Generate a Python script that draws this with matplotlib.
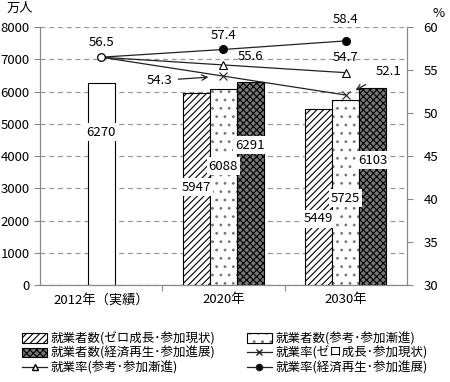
import matplotlib
matplotlib.use("Agg")
import matplotlib.pyplot as plt
from matplotlib.patches import Patch
from matplotlib.lines import Line2D

plt.rcParams['font.family'] = ['Noto Sans CJK JP', 'DejaVu Sans']
plt.rcParams['hatch.linewidth'] = 0.8

# data
categories = ["2012年（実績）", "2020年", "2030年"]
actual_2012 = 6270
workers_zero = [5947, 5449]      # 就業者数(ゼロ成長・参加現状) 2020, 2030
workers_ref = [6088, 5725]       # 就業者数(参考・参加漸進)
workers_econ = [6291, 6103]      # 就業者数(経済再生・参加進展)
rate_2012 = 56.5
rate_zero = [54.3, 52.1]         # 就業率(ゼロ成長・参加現状)
rate_ref = [55.6, 54.7]          # 就業率(参考・参加漸進)
rate_econ = [57.4, 58.4]         # 就業率(経済再生・参加進展)

fig = plt.figure(figsize=(4.5, 3.82), dpi=100)
ax = fig.add_axes([0.089, 0.254, 0.815, 0.675])
ax2 = ax.twinx()
ax.set_zorder(ax2.get_zorder() - 1)
ax.patch.set_visible(True)
ax2.patch.set_visible(False)

w = 0.22
fut = [1, 2]
ax.bar(0, actual_2012, w, color="white", edgecolor="black", lw=0.8, zorder=3)
ax.bar([x - w for x in fut], workers_zero, w, color="white", edgecolor="black",
       hatch="/////", lw=0.8, zorder=3)
# dotted bars: grey dots, then black outline on top
ax.bar(fut, workers_ref, w, color="white", edgecolor="#777777", hatch="..", lw=0, zorder=3)
ax.bar(fut, workers_ref, w, fill=False, edgecolor="black", lw=0.8, zorder=3)
ax.bar([x + w for x in fut], workers_econ, w, color="#777777", edgecolor="black",
       hatch="xxxxx", lw=0.8, zorder=3)

# bar value labels (white boxes)
box = dict(facecolor="white", edgecolor="none", pad=1.5)
lab_kw = dict(ha="center", va="center", fontsize=9.5, bbox=box, zorder=5)
ax.text(0, 4744, str(actual_2012), **lab_kw)
for x, v, yl in zip(fut, workers_zero, [3039, 2047]):
    ax.text(x - w, yl, str(v), **lab_kw)
for x, v, yl in zip(fut, workers_ref, [3690, 2698]):
    ax.text(x, yl, str(v), **lab_kw)
for x, v, yl in zip(fut, workers_econ, [4341, 3876]):
    ax.text(x + w, yl, str(v), **lab_kw)

ax.set_xlim(-0.5, 2.5)
ax.set_ylim(0, 8000)
ax.set_yticks(range(0, 8001, 1000))
ax.set_xticks([0.5, 1.5], minor=False)
ax.set_xticklabels([])
ax.set_xticks([0, 1, 2], minor=True)
ax.set_xticklabels(categories, minor=True)
ax.tick_params(axis="x", which="minor", length=0, pad=6, labelsize=9.5)
ax.tick_params(axis="x", which="major", length=4, color="#888888")
ax.tick_params(axis="y", length=4, color="#888888", labelsize=9.5)
ax.grid(axis="y", linestyle=(0, (4, 3)), color="#999999", lw=0.9, zorder=0)
ax.spines["top"].set_visible(False)
ax2.spines["top"].set_visible(False)
for a in (ax, ax2):
    for s in ["left", "right", "bottom"]:
        a.spines[s].set_color("#888888")

# rate lines on right axis
xs = [0, 1, 2]
ax2.plot(xs, [rate_2012] + rate_zero, color="#222222", lw=0.9, marker="x", ms=6,
         markevery=[1, 2], mew=0.8, zorder=4)
ax2.plot(xs, [rate_2012] + rate_ref, color="#222222", lw=0.9, marker="^", ms=6,
         markevery=[1, 2], mfc="white", mec="black", mew=0.8, zorder=4)
ax2.plot(xs, [rate_2012] + rate_econ, color="#222222", lw=0.9, marker="o", ms=5.5,
         markevery=[1, 2], mfc="black", mec="black", zorder=4)
ax2.plot([0], [rate_2012], marker="o", ms=5.5, mfc="white", mec="black", mew=0.9,
         ls="none", zorder=5)
ax2.set_ylim(30, 60)
ax2.set_yticks(range(30, 61, 5))
ax2.tick_params(axis="y", length=4, color="#888888", labelsize=9.5, pad=8)

tk = dict(fontsize=9.5, ha="center", va="center")
ax2.text(0, rate_2012 + 1.7, f"{rate_2012}", **tk)
ax2.text(1, rate_econ[0] + 1.6, f"{rate_econ[0]}", **tk)
ax2.text(2, rate_econ[1] + 2.5, f"{rate_econ[1]}", **tk)
ax2.text(1.22, rate_ref[0] + 1.0, f"{rate_ref[0]}", **tk)
ax2.text(2, rate_ref[1] + 1.8, f"{rate_ref[1]}", **tk)
ax2.annotate(f"{rate_zero[0]}", xy=(0.9, rate_zero[0] - 0.1), xytext=(0.48, rate_zero[0] - 0.5),
             ha="center", va="center", fontsize=9.5,
             arrowprops=dict(arrowstyle="->", color="#222222", lw=0.9))
ax2.annotate(f"{rate_zero[1]}", xy=(2.06, rate_zero[1] + 0.4), xytext=(2.35, rate_zero[1] + 2.7),
             ha="center", va="center", fontsize=9.5,
             arrowprops=dict(arrowstyle="->", color="#222222", lw=0.9, shrinkA=6))

fig.text(0.045, 0.978, "万人", fontsize=9.5, ha="center", va="center")
fig.text(0.975, 0.965, "%", fontsize=9.5, ha="center", va="center")

dot_handle = (Patch(facecolor="white", edgecolor="#777777", hatch="..", lw=0),
              Patch(fill=False, edgecolor="black", lw=0.8))
handles = [
    Patch(facecolor="white", edgecolor="black", hatch="/////", lw=0.8),
    Patch(facecolor="#777777", edgecolor="black", hatch="xxxxx", lw=0.8),
    Line2D([], [], color="#222222", lw=0.9, marker="^", ms=5, mfc="white", mec="black"),
    dot_handle,
    Line2D([], [], color="#222222", lw=0.9, marker="x", ms=5),
    Line2D([], [], color="#222222", lw=0.9, marker="o", ms=4.5, mfc="black"),
]
labels = [
    "就業者数(ゼロ成長･参加現状)",
    "就業者数(経済再生･参加進展)",
    "就業率(参考･参加漸進)",
    "就業者数(参考･参加漸進)",
    "就業率(ゼロ成長･参加現状)",
    "就業率(経済再生･参加進展)",
]
fig.legend(handles, labels, ncol=2, loc="lower center", bbox_to_anchor=(0.5, -0.01),
           frameon=False, fontsize=9, handlelength=2.0, handleheight=0.8,
           handletextpad=0.3, columnspacing=2.5, labelspacing=0.1)

fig.savefig("out.png", dpi=100)
